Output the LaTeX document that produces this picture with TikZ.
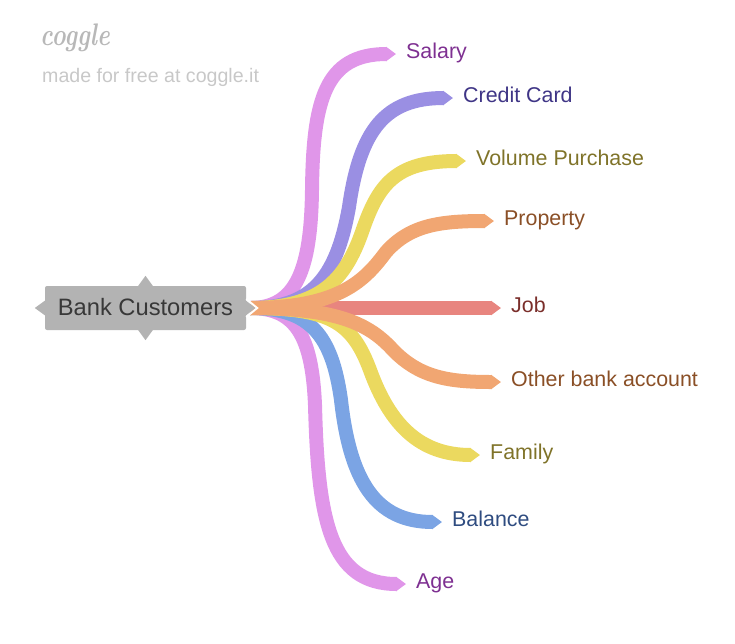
\documentclass[tikz,border=0pt]{standalone}
\usepackage{fontspec}
\setmainfont{Liberation Sans}
\newfontfamily\logofont{Latin Modern Roman}
\usetikzlibrary{arrows.meta,backgrounds,calc}
\definecolor{pinkline}{HTML}{E096E9}
\definecolor{pinktext}{HTML}{7E3091}
\definecolor{violetline}{HTML}{9A8FE3}
\definecolor{violettext}{HTML}{3F3586}
\definecolor{yellowline}{HTML}{EBD95F}
\definecolor{yellowtext}{HTML}{7F7329}
\definecolor{orangeline}{HTML}{F1A672}
\definecolor{orangetext}{HTML}{8A4F26}
\definecolor{redline}{HTML}{E8857F}
\definecolor{redtext}{HTML}{7A2E2A}
\definecolor{blueline}{HTML}{7BA4E4}
\definecolor{bluetext}{HTML}{2F4C80}
\definecolor{rootgray}{HTML}{B3B3B3}
\definecolor{markgray}{HTML}{C8C8C8}
\tikzset{
	x=1pt,
	y=-1pt,
	branch/.style={line width=14pt, shorten >=10pt, -{Triangle[length=10pt,width=14pt]}},
	leaf/.style={anchor=west, inner sep=0pt, text height=13pt, text depth=5pt, font=\fontsize{21.4}{24}\selectfont},
	rootbox/.style={fill=rootgray, rounded corners=2pt, minimum width=201pt, minimum height=44pt, inner sep=0pt, text=black!78, text height=17pt, text depth=3pt, font=\fontsize{23.7}{26}\selectfont},
	roottip/.style={fill=rootgray},
	watermark/.style={anchor=base west, inner sep=0pt, text=markgray},
}

\begin{document}
\begin{tikzpicture}
	\useasboundingbox (0,0) rectangle (735,643);

	\node[watermark, text=black!28, font=\logofont\itshape\bfseries\fontsize{24}{26}\selectfont] (logo) at (40,45) {\scalebox{1}[1.3]{coggle}};
	\node[watermark, font=\fontsize{19.6}{22}\selectfont] (madefor) at (42,82) {made for free at coggle.it};

	\node[rootbox] (root) at (145.5,308) {Bank Customers};
	\coordinate (hub) at ($(root.east)+(4,0)$);
	\fill[roottip] ($(root.north)+(-8,1)$) -- ($(root.north)+(0,-10)$) -- ($(root.north)+(8,1)$) -- cycle;
	\fill[roottip] ($(root.south)+(-8,-1)$) -- ($(root.south)+(0,10)$) -- ($(root.south)+(8,-1)$) -- cycle;
	\fill[roottip] ($(root.west)+(1,-8)$) -- ($(root.west)+(-10,0)$) -- ($(root.west)+(1,8)$) -- cycle;
	\draw[white, line width=2pt] ($(root.east)+(0,-9)$) -- ($(root.east)+(11,0)$) -- ($(root.east)+(0,9)$);
	\fill[roottip] ($(root.east)+(-1,-8)$) -- ($(root.east)+(9,0)$) -- ($(root.east)+(-1,8)$) -- cycle;

	\node[leaf, text=pinktext] (salary) at (406,54) {Salary};
	\node[leaf, text=violettext] (credit) at (463,98) {Credit Card};
	\node[leaf, text=yellowtext] (volume) at (476,161) {Volume Purchase};
	\node[leaf, text=orangetext] (property) at (504,221) {Property};
	\node[leaf, text=redtext] (job) at (511,308) {Job};
	\node[leaf, text=orangetext] (other) at (511,382) {Other bank account};
	\node[leaf, text=yellowtext] (family) at (490,455) {Family};
	\node[leaf, text=bluetext] (balance) at (452,522) {Balance};
	\node[leaf, text=pinktext] (age) at (416,584) {Age};

	\begin{scope}[on background layer]
		\draw[branch, pinkline] (hub) .. controls (296,308) and (311,270) .. (312,190) .. controls (313,100) and (325,54) .. (salary.west);
		\draw[branch, pinkline] (hub) .. controls (295,308) and (312,335) .. (315,405) .. controls (318,520) and (330,584) .. (age.west);
		\draw[branch, violetline] (hub) .. controls (310,308) and (336,280) .. (349,207) .. controls (360,130) and (385,98) .. (credit.west);
		\draw[branch, blueline] (hub) .. controls (310,308) and (332,335) .. (341,400) .. controls (350,480) and (375,522) .. (balance.west);
		\draw[branch, yellowline] (hub) .. controls (320,308) and (345,280) .. (362,232) .. controls (378,185) and (395,161) .. (volume.west);
		\draw[branch, yellowline] (hub) .. controls (330,308) and (352,322) .. (370,370) .. controls (390,425) and (420,455) .. (family.west);
		\draw[branch, redline] (hub) -- (job.west);
		\draw[branch, orangeline] (hub) .. controls (340,308) and (365,280) .. (386,252) .. controls (410,225) and (440,221) .. (property.west);
		\draw[branch, orangeline] (hub) .. controls (340,308) and (370,325) .. (393,350) .. controls (420,378) and (450,382) .. (other.west);
	\end{scope}
\end{tikzpicture}
\end{document}
